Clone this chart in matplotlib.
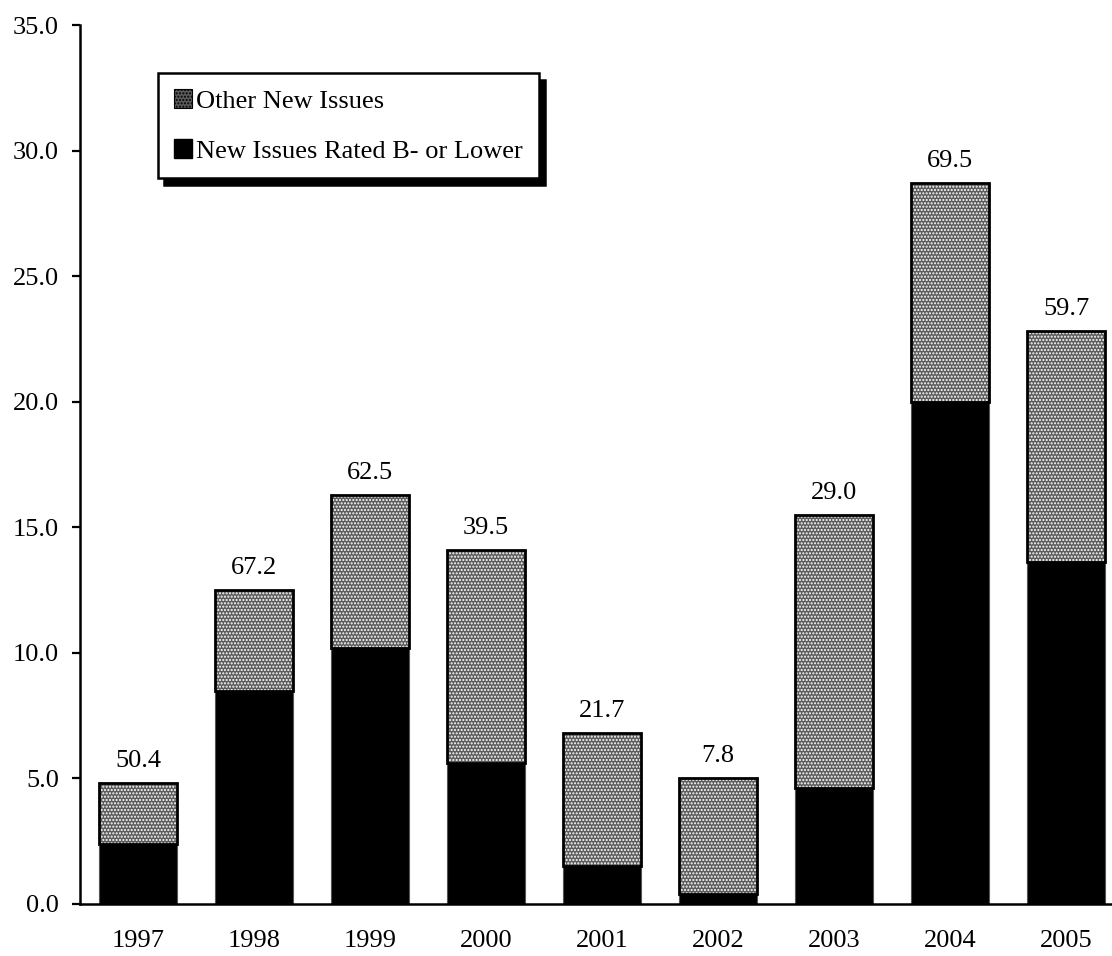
import matplotlib
matplotlib.use('Agg')
import matplotlib.pyplot as plt
from matplotlib.patches import Patch
import numpy as np

plt.rcParams['font.family'] = ['Liberation Serif', 'DejaVu Serif']
plt.rcParams['hatch.linewidth'] = 1.0

years = ['1997', '1998', '1999', '2000', '2001', '2002', '2003', '2004', '2005']
rated_low = [2.4, 8.5, 10.2, 5.6, 1.5, 0.4, 4.6, 20.0, 13.6]
other = [2.4, 4.0, 6.1, 8.5, 5.3, 4.6, 10.9, 8.7, 9.2]
top_labels = ['50.4', '67.2', '62.5', '39.5', '21.7', '7.8', '29.0', '69.5', '59.7']

x = np.arange(len(years))
low = np.array(rated_low)
oth = np.array(other)
width = 0.675
fs = 19

fig = plt.figure(figsize=(11.12, 9.56), dpi=100)
ax = fig.add_axes([80/1112, 52/956, 1032/1112, 879/956])

# black segment
ax.bar(x, low, width, color='black', edgecolor='#555555', linewidth=0.8, zorder=2)
# textured gray segment
ax.bar(x, oth, width, bottom=low, color='#5c5c5c', edgecolor='white',
       linewidth=0, hatch='.....', zorder=2)
# outline of the gray part
ax.bar(x, oth, width, bottom=low, fill=False, edgecolor='black', linewidth=2, zorder=3)

for xi, tot, lab in zip(x, low + oth, top_labels):
    ax.annotate(lab, (xi, tot), xytext=(0, 8), textcoords='offset points',
                ha='center', va='bottom', fontsize=fs)

ax.set_xlim(-0.502, 8.395)
ax.set_ylim(0, 35)
ax.set_yticks(np.arange(0, 35.1, 5))
ax.set_yticklabels(['%.1f' % v for v in np.arange(0, 35.1, 5)])
ax.set_xticks(x)
ax.set_xticklabels(years)
ax.tick_params(axis='y', length=6, width=1.6, pad=9, labelsize=fs, direction='out')
ax.tick_params(axis='x', length=0, pad=19, labelsize=fs)
for s in ['top', 'right']:
    ax.spines[s].set_visible(False)
for s in ['left', 'bottom']:
    ax.spines[s].set_linewidth(1.8)
    ax.spines[s].set_zorder(4)

handles = [Patch(facecolor='#5c5c5c', edgecolor='black', linewidth=0.8, hatch='.....',
                 label='Other New Issues'),
           Patch(facecolor='black', edgecolor='black', label='New Issues Rated B- or Lower')]
leg = ax.legend(handles=handles, loc='upper left', bbox_to_anchor=(0.0756, 0.945),
                borderaxespad=0, fancybox=False, fontsize=fs, handlelength=0.7,
                handleheight=0.7, handletextpad=0.15, labelspacing=1.0,
                borderpad=0.6, shadow={'ox': 4.5, 'oy': -4.5, 'color': 'black', 'alpha': 1})
leg.get_frame().set_edgecolor('black')
leg.get_frame().set_linewidth(1.8)

plt.savefig('out.png', dpi=100)
